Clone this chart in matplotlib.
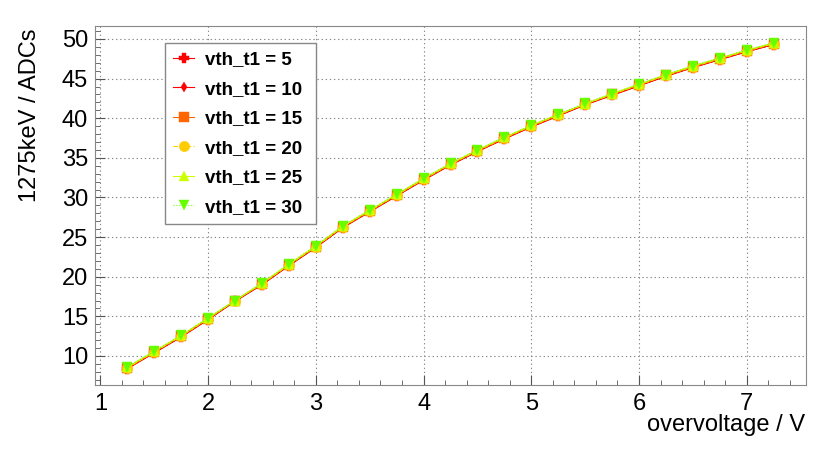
import matplotlib
matplotlib.use("Agg")
import matplotlib.pyplot as plt
from matplotlib.ticker import MultipleLocator

plt.rcParams["font.family"] = ["Liberation Sans", "DejaVu Sans"]

overvoltage = [1.25, 1.5, 1.75, 2.0, 2.25, 2.5, 2.75, 3.0, 3.25, 3.5, 3.75, 4.0, 4.25,
               4.5, 4.75, 5.0, 5.25, 5.5, 5.75, 6.0, 6.25, 6.5, 6.75, 7.0, 7.25]

adc_vth5 = [8.4, 10.4, 12.4, 14.6, 16.9, 19.0, 21.4, 23.7, 26.2, 28.2, 30.2, 32.2, 34.1,
            35.8, 37.4, 38.9, 40.3, 41.7, 42.9, 44.1, 45.3, 46.4, 47.4, 48.4, 49.3]
adc_vth10 = [8.4, 10.4, 12.4, 14.6, 16.9, 19.0, 21.4, 23.7, 26.2, 28.2, 30.2, 32.2, 34.1,
             35.8, 37.4, 38.9, 40.3, 41.7, 42.9, 44.1, 45.3, 46.4, 47.4, 48.4, 49.3]
adc_vth15 = [8.5, 10.5, 12.5, 14.7, 17.0, 19.1, 21.5, 23.8, 26.3, 28.3, 30.3, 32.3, 34.2,
             35.9, 37.5, 39.0, 40.4, 41.8, 43.0, 44.2, 45.4, 46.5, 47.5, 48.5, 49.4]
adc_vth20 = [8.5, 10.5, 12.5, 14.7, 17.0, 19.1, 21.5, 23.8, 26.3, 28.3, 30.3, 32.3, 34.2,
             35.9, 37.5, 39.0, 40.4, 41.8, 43.0, 44.2, 45.4, 46.5, 47.5, 48.5, 49.4]
adc_vth25 = [8.6, 10.6, 12.6, 14.8, 17.0, 19.2, 21.6, 23.9, 26.4, 28.4, 30.4, 32.4, 34.3,
             36.0, 37.6, 39.1, 40.5, 41.8, 43.1, 44.3, 45.5, 46.6, 47.6, 48.6, 49.5]
adc_vth30 = [8.6, 10.6, 12.6, 14.8, 17.0, 19.2, 21.6, 23.9, 26.4, 28.4, 30.4, 32.4, 34.3,
             36.0, 37.6, 39.1, 40.5, 41.9, 43.1, 44.3, 45.5, 46.6, 47.6, 48.6, 49.5]

series = [
    ("vth_t1 = 5", adc_vth5, "#ff0000", "P", "-"),
    ("vth_t1 = 10", adc_vth10, "#ff0000", "d", "-"),
    ("vth_t1 = 15", adc_vth15, "#ff6600", "s", "-"),
    ("vth_t1 = 20", adc_vth20, "#ffcc00", "o", (0, (4, 2))),
    ("vth_t1 = 25", adc_vth25, "#ccff00", "^", "-"),
    ("vth_t1 = 30", adc_vth30, "#66ff00", "v", ":"),
]

fig = plt.figure(figsize=(8.3, 4.5), dpi=100)
ax = fig.add_axes([95 / 830, 1 - 385 / 450, 711 / 830, 359 / 450])

for label, vals, color, marker, ls in series:
    ms = 5 if marker == "d" else 7.5
    ax.plot(overvoltage, vals, color=color, marker=marker, linestyle=ls, linewidth=0.8,
            markersize=ms, markeredgewidth=0.3, label=label)

ax.set_xlim(0.95, 7.55)
ax.set_ylim(6.34, 51.64)
ax.xaxis.set_major_locator(MultipleLocator(1))
ax.xaxis.set_minor_locator(MultipleLocator(0.2))
ax.yaxis.set_major_locator(MultipleLocator(5))
ax.yaxis.set_minor_locator(MultipleLocator(1))
ax.set_yticks([10, 15, 20, 25, 30, 35, 40, 45, 50])
ax.tick_params(which="both", direction="in", labelsize=17, color="#555555")
ax.tick_params(which="major", length=7)
ax.tick_params(which="minor", length=3.5)
ax.tick_params(axis="x", pad=6)
ax.tick_params(axis="y", pad=5)
ax.grid(True, which="major", linestyle=(0, (1.2, 2.5)), color="#888888", linewidth=0.8)
for sp in ax.spines.values():
    sp.set_color("#888888")

fig.text(805 / 830, 1 - 425 / 450, "overvoltage / V", ha="right", va="center", fontsize=17)
fig.text(30 / 830, 1 - 28 / 450, "1275keV / ADCs", ha="center", va="top",
         rotation=90, fontsize=17)

# legend box spans x 165..316 px, top at 43 px
leg = ax.legend(loc="upper left",
                bbox_to_anchor=((165 - 95) / 711, 0, 151 / 711, (385 - 43) / 359),
                mode="expand", borderaxespad=0, frameon=True, fancybox=False,
                framealpha=1, edgecolor="#888888", prop={"weight": "bold", "size": 13.5},
                handlelength=1.1, labelspacing=0.66, borderpad=0.45, handletextpad=0.6)
leg.get_frame().set_linewidth(1)

fig.savefig("out.png", dpi=100)
